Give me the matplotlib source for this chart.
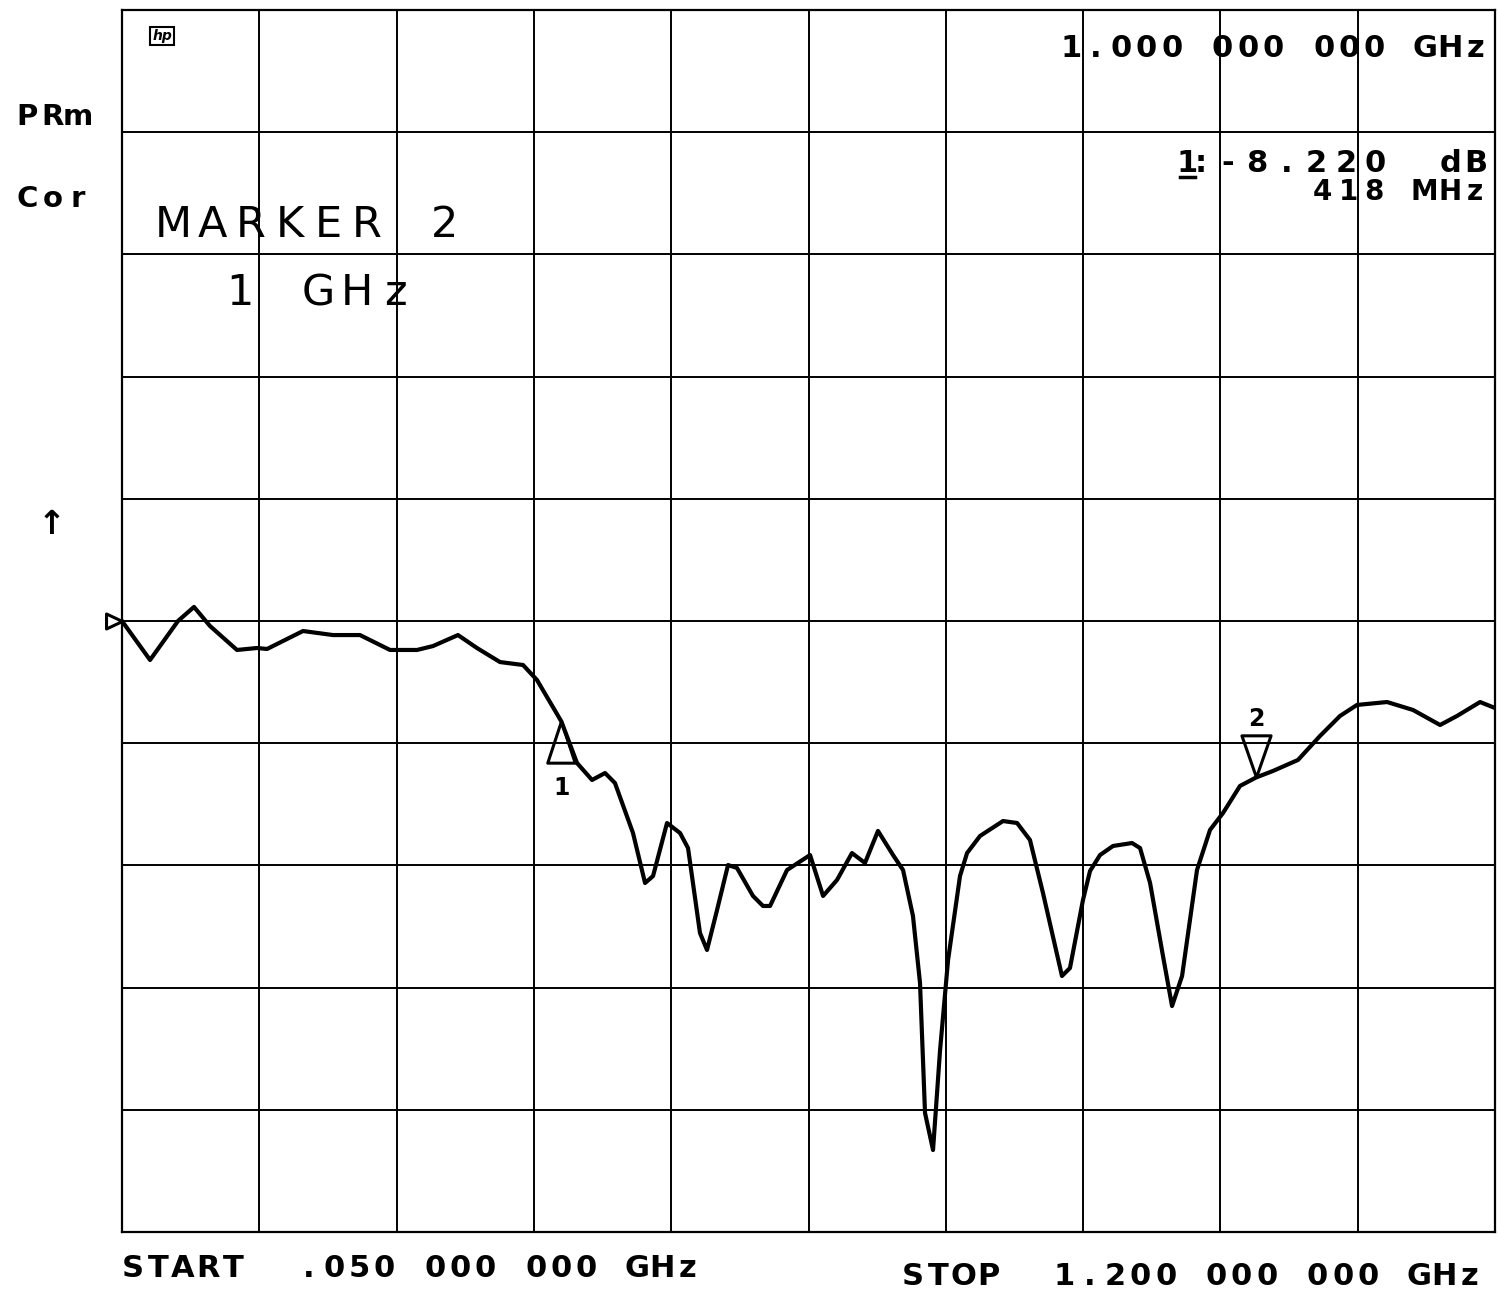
import numpy as np
import matplotlib.pyplot as plt

# sweep: 0.050 - 1.200 GHz, trace (10 dB/div, ref 0 dB)
freq_ghz = [0.050, 0.0735, 0.0969, 0.1103, 0.1237, 0.1463, 0.1631, 0.1715, 0.2016, 0.2267,
            0.2493, 0.2745, 0.2971, 0.3105, 0.3314, 0.3473, 0.3666, 0.3859, 0.3976, 0.418,
            0.4311, 0.4437, 0.4546, 0.4629, 0.4780, 0.4881, 0.4948, 0.5065, 0.5174, 0.5241,
            0.5341, 0.5400, 0.5484, 0.5576, 0.5651, 0.5785, 0.5869, 0.5928, 0.6070, 0.6263,
            0.6372, 0.6489, 0.6614, 0.6723, 0.6832, 0.6958, 0.7042, 0.7125, 0.7184, 0.7226,
            0.7293, 0.7352, 0.7419, 0.7519, 0.7578, 0.7687, 0.7879, 0.7997, 0.8105, 0.8214,
            0.8373, 0.8440, 0.8549, 0.8608, 0.8692, 0.8801, 0.8960, 0.9027, 0.9111, 0.9219,
            0.9295, 0.9379, 0.9504, 0.9613, 0.9722, 0.9864, 1.000, 1.0141, 1.0350, 1.0534,
            1.0702, 1.0844, 1.1096, 1.1313, 1.1540, 1.1682, 1.1875, 1.200]
mag_db = [0.00, -3.19, 0.00, 1.15, -0.41, -2.37, -2.21, -2.29, -0.82, -1.15,
          -1.15, -2.37, -2.37, -2.05, -1.15, -2.21, -3.36, -3.60, -4.83, -8.22,
          -11.62, -13.01, -12.44, -13.26, -17.35, -21.44, -20.87, -16.53, -17.35, -18.58,
          -25.53, -26.92, -23.65, -19.97, -20.21, -22.50, -23.32, -23.32, -20.38, -19.15,
          -22.50, -21.19, -18.99, -19.80, -17.18, -19.15, -20.38, -24.14, -29.62, -40.26,
          -43.29, -35.11, -27.74, -20.87, -18.99, -17.59, -16.37, -16.53, -17.92, -22.26,
          -29.05, -28.40, -22.83, -20.46, -19.15, -18.41, -18.17, -18.58, -21.44, -27.41,
          -31.51, -29.05, -20.38, -17.10, -15.71, -13.50, -12.80, -12.27, -11.37, -9.41,
          -7.77, -6.87, -6.63, -7.28, -8.51, -7.77, -6.63, -7.12]

marker1 = (0.418, -8.22)
marker2 = (1.000, -12.80)

W, H = 1498, 1300
plt.rcParams['font.family'] = ['DejaVu Sans']
fig = plt.figure(figsize=(W / 100, H / 100), dpi=100)
ax = fig.add_axes([122 / W, 1 - 1232 / H, (1495 - 122) / W, (1232 - 10) / H])

ax.set_xlim(0.05, 1.2)
ax.set_ylim(-50, 50)
ax.set_xticks(np.linspace(0.05, 1.2, 11))
ax.set_yticks(np.linspace(-50, 50, 11))
ax.tick_params(length=0, labelbottom=False, labelleft=False)
ax.grid(True, color='black', lw=1.4)
for sp in ax.spines.values():
    sp.set_linewidth(1.6)

ax.plot(freq_ghz, mag_db, color='black', lw=3, solid_joinstyle='round')

# marker triangles, apex on the trace
tri_up = [(0, 0), (-0.33, -1), (0.33, -1), (0, 0)]
tri_down = [(0, 0), (-0.35, 1), (0.35, 1), (0, 0)]
ax.plot(*marker1, marker=tri_up, ms=60, mfc='none', mec='black', mew=2.2)
ax.plot(*marker2, marker=tri_down, ms=60, mfc='none', mec='black', mew=2.2)
ax.annotate('1', marker1, xytext=(0, -48), textcoords='offset points',
            ha='center', va='center', fontsize=17, fontweight='bold')
ax.annotate('2', marker2, xytext=(0, 42), textcoords='offset points',
            ha='center', va='center', fontsize=17, fontweight='bold')

# reference level pointer on the left edge
ax.plot(0.05, 0, marker=[(0, 0), (-1, 0.47), (-1, -0.47), (0, 0)], ms=23,
        mfc='none', mec='black', mew=2.2, clip_on=False)


def pen_text(x, y, s, pitch, size, **kw):
    # plotter lettering: one character per fixed-width cell (pixel coords)
    for i, ch in enumerate(s):
        fig.text((x + (i + 0.5) * pitch) / W, 1 - y / H, ch, ha='center',
                 va='baseline', fontsize=size, **kw)


pen_text(15, 125, 'PRm', 25, 21, fontweight='bold')
pen_text(15, 207, 'Cor', 25, 21, fontweight='bold')
pen_text(1058, 57, '1.000 000 000 GHz', 25.3, 22, fontweight='bold')
pen_text(1180, 172, '1:', 14, 22, fontweight='bold')
pen_text(1213, 172, '-8.220', 29.5, 22, fontweight='bold')
pen_text(1438, 172, 'dB', 25, 22, fontweight='bold')
pen_text(1310, 200, '418 MHz', 25.4, 20, fontweight='bold')
pen_text(154, 237, 'MARKER 2', 38.7, 31)
pen_text(221, 305, '1 GHz', 38.7, 31)
pen_text(120, 1277, 'START  .050 000 000 GHz', 25.2, 22, fontweight='bold')
pen_text(900, 1285, 'STOP  1.200 000 000 GHz', 25.3, 22, fontweight='bold')

# underline of the active marker number
fig.add_artist(plt.Line2D([1180 / W, 1195 / W], [1 - 177 / H, 1 - 177 / H],
                          color='black', lw=2.5))

fig.text(52 / W, 1 - 525 / H, '↑', fontsize=24, fontweight='bold', ha='center', va='center')
fig.text(162 / W, 1 - 36 / H, 'hp', fontsize=10, style='italic', fontweight='bold',
         ha='center', va='center',
         bbox=dict(boxstyle='square,pad=0.15', fc='none', ec='black', lw=1.5))

fig.savefig('out.png', dpi=100, facecolor='white')
